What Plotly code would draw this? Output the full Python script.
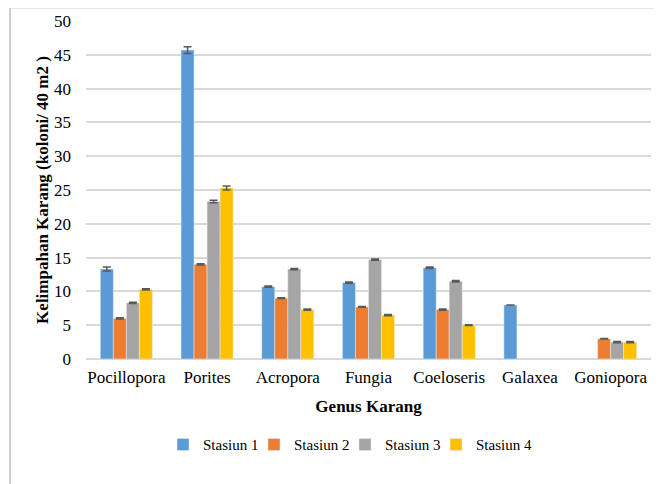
import plotly.graph_objects as go

genus = ['Pocillopora', 'Porites', 'Acropora', 'Fungia', 'Coeloseris', 'Galaxea', 'Goniopora']

stasiun1 = [13.3, 45.7, 10.7, 11.3, 13.5, 8.0, None]
stasiun2 = [6.0, 14.0, 9.0, 7.7, 7.3, None, 3.0]
stasiun3 = [8.3, 23.3, 13.3, 14.7, 11.5, None, 2.5]
stasiun4 = [10.3, 25.3, 7.3, 6.5, 5.0, None, 2.5]

err1 = [0.3, 0.5, 0.1, 0.1, 0.1, 0, 0]
err2 = [0.1, 0.1, 0.05, 0.05, 0.1, 0, 0.05]
err3 = [0.1, 0.2, 0.1, 0.1, 0.1, 0, 0.1]
err4 = [0.1, 0.3, 0.1, 0.1, 0.05, 0, 0.1]

names = ['Stasiun 1', 'Stasiun 2', 'Stasiun 3', 'Stasiun 4']
colors = ['#5B9BD5', '#ED7D31', '#A5A5A5', '#FFC000']
legend_ids = ['legend', 'legend2', 'legend3', 'legend4']
legend_x = [0.1363, 0.2973, 0.4584, 0.6195]

fig = go.Figure()
for name, vals, errs, col, lg in zip(names, [stasiun1, stasiun2, stasiun3, stasiun4],
                                     [err1, err2, err3, err4], colors, legend_ids):
    fig.add_trace(go.Bar(
        x=genus, y=vals, name=name, marker_color=col, legend=lg, showlegend=True,
        error_y=dict(type='data', array=errs, color='#595959', thickness=1.5, width=4),
    ))

legend_font = dict(family='Liberation Serif', size=15, color='black')

# page body has an 8px margin, so margins are shifted accordingly
fig.update_layout(
    width=662, height=484, showlegend=True,
    barmode='group', bargap=0.355, bargroupgap=0,
    plot_bgcolor='white', paper_bgcolor='white',
    font=dict(family='Liberation Serif', size=17, color='black'),
    margin=dict(l=78, r=19, t=13, b=133, autoexpand=False),
    xaxis=dict(title=dict(text='<b>Genus Karang</b>', font=dict(size=17), standoff=14),
               showline=False, ticks='', ticklabelstandoff=6, automargin=False),
    yaxis=dict(title=dict(text='<b>Kelimpahan Karang (koloni/ 40 m2 )</b>', font=dict(size=17), standoff=1),
               range=[0, 50], dtick=5, gridcolor='#D9D9D9', gridwidth=1.5,
               zeroline=True, zerolinecolor='#D9D9D9', zerolinewidth=1.5, ticks='',
               ticklabelstandoff=14, automargin=False),
    shapes=[dict(type='rect', xref='paper', yref='paper', x0=-0.1345, x1=1.1, y0=-0.5, y1=1.04,
                 line=dict(color='#D0D0D0', width=2), fillcolor='rgba(0,0,0,0)', layer='below')],
)
for lg, lx in zip(legend_ids, legend_x):
    fig.update_layout({lg: dict(x=lx, xanchor='left', y=-0.205, yanchor='top',
                                orientation='h', font=legend_font, itemwidth=30,
                                bgcolor='rgba(0,0,0,0)')})

fig.write_html("out.html")
